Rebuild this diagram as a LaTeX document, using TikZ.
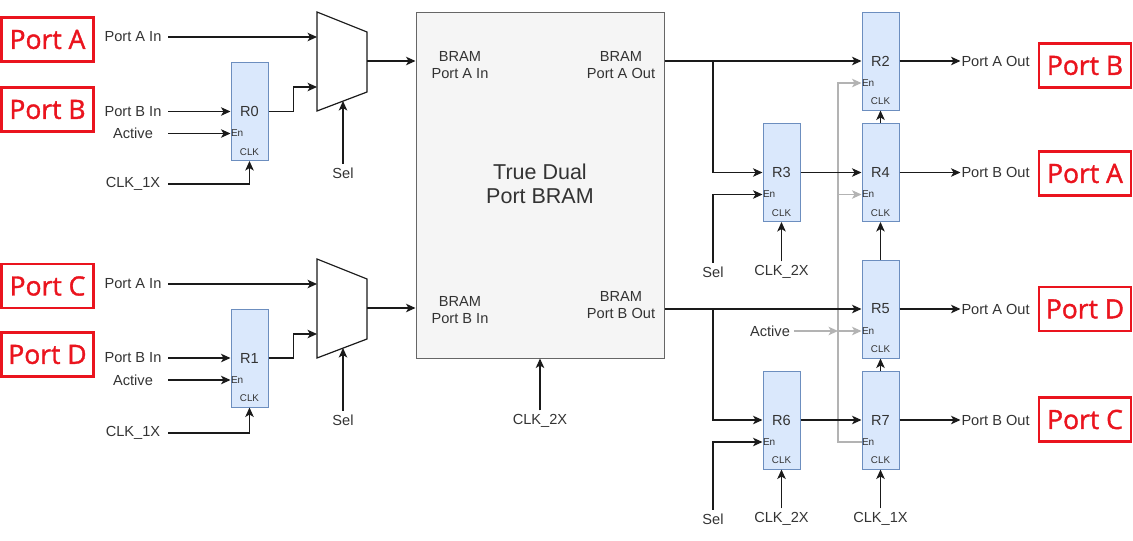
\documentclass[tikz,border=0pt]{standalone}
\usepackage{fontspec}
\setmainfont{Liberation Sans}
\newfontfamily\portfont[FakeBold=1.4]{Open Sans}
\usetikzlibrary{arrows.meta,calc}
\definecolor{regfill}{HTML}{DAE8FC}
\definecolor{regline}{HTML}{6C8EBF}
\definecolor{bramfill}{HTML}{F5F5F5}
\definecolor{bramline}{HTML}{666666}
\definecolor{txt}{HTML}{333333}
\definecolor{wirecol}{HTML}{1A1A1A}
\definecolor{gwire}{HTML}{B3B3B3}
\definecolor{portred}{HTML}{EA141E}
\tikzset{
  lbl/.style={font=\fontsize{14.6}{17}\selectfont, text=txt, inner sep=1pt, outer sep=3pt},
  inlbl/.style={lbl, minimum width=64pt, inner sep=0pt},
  reg/.style={draw=regline, fill=regfill, line width=1pt, minimum width=37pt, minimum height=98pt,
    inner sep=0pt, font=\fontsize{14.6}{17}\selectfont, text=txt},
  enlbl/.style={font=\fontsize{10}{12}\selectfont, text=txt, inner sep=0.5pt, outer sep=0pt, anchor=west},
  clklbl/.style={font=\fontsize{9.8}{12}\selectfont, text=txt, inner sep=0pt},
  portbox/.style={draw=portred, line width=2.6pt, text=portred, minimum width=92pt, minimum height=44pt,
    inner sep=0pt, font=\portfont\fontsize{26.5}{30}\selectfont},
  wire/.style={draw=wirecol, line width=1.2pt},
  arr/.style={wire, -{Stealth[length=9.5pt,width=8.5pt,inset=2.5pt]}},
  garr/.style={draw=gwire, line width=1.2pt, -{Stealth[length=9.5pt,width=8.5pt,inset=2.5pt]}},
}
% register with En and CLK pins
\newcommand{\regbox}[3]{%
  \node[reg] (#1) at (#2) {#3};
  \node[enlbl] (#1en) at ([yshift=-22pt]#1.west) {En};
  \node[clklbl] (#1clk) at ([yshift=9pt]#1.south) {CLK};
}
% 2:1 mux, name and top y
\newcommand{\muxbox}[2]{%
  \draw[wire, fill=white] (317,#2) -- (367,#2+20) -- (367,#2+80) -- (317,#2+99) -- cycle;
  \coordinate (#1in1) at (317,#2+25);
  \coordinate (#1in2) at (317,#2+75);
  \coordinate (#1out) at (367,#2+49);
  \coordinate (#1sel) at (343,#2+89);
}
\begin{document}
\begin{tikzpicture}[x=1pt,y=-1pt]
\useasboundingbox (0,0) rectangle (1133,541);
\foreach \nm/\x/\y/\t in {pa/47.5/39.5/A, pb/47.5/109.5/B, pc/47.5/286/C, pd/47.5/354.5/D,
  ob/1085/65.5/B, oa/1085/173.5/A, od/1085/309/D, oc/1085/419.5/C}
  \node[portbox] (port\nm) at (\x,\y) {Port \t};

% BRAM
\node[draw=bramline, fill=bramfill, line width=1pt, minimum width=248pt, minimum height=346pt] (bram) at (540,185) {};
\node[lbl, align=center] (bpai) at (460,65.5) {BRAM\\Port A In};
\node[lbl, align=center] (bpao) at (621,65.5) {BRAM\\Port A Out};
\node[lbl, align=center] (bpbi) at (460,310.5) {BRAM\\Port B In};
\node[lbl, align=center] (bpbo) at (621,305.5) {BRAM\\Port B Out};
\node[font=\fontsize{21.5}{24}\selectfont, text=txt, align=center] (title) at (540,184) {True Dual\\Port BRAM};
\node[lbl] (clkbram) at (540,421) {CLK\_2X};
\draw[arr] (clkbram.north) -- (bram.south);

% input side
\muxbox{muxA}{12}
\muxbox{muxB}{259}
\regbox{R0}{249.5,111.5}{R0}
\regbox{R1}{249.5,358}{R1}
\node[inlbl] (ainA) at (133,37) {Port A In};
\node[inlbl] (binA) at (133,111.5) {Port B In};
\node[inlbl] (actA) at (133,133.5) {Active};
\node[inlbl] (clkA) at (133,184) {CLK\_1X};
\node[lbl] (selA) at (343,173) {Sel};
\node[inlbl] (ainB) at (133,284) {Port A In};
\node[inlbl] (binB) at (133,358) {Port B In};
\node[inlbl] (actB) at (133,380) {Active};
\node[inlbl] (clkB) at (133,433) {CLK\_1X};
\node[lbl] (selB) at (343,420) {Sel};
\foreach \m/\r/\s in {A/R0/A, B/R1/B} {
  \draw[arr] (ain\s.east) -- (mux\m in1);
  \draw[arr] (bin\s.east) -- (bin\s.east -| \r.west);
  \draw[arr] (act\s.east) -- (\r en.west);
  \draw[arr] (clk\s.east) -| (\r.south);
  \draw[arr] (\r.east) -- ++(25,0) |- (mux\m in2);
  \draw[arr] (sel\s.north) -- (mux\m sel);
  \draw[arr] (mux\m out) -- (mux\m out -| bram.west);
}

% output side
\regbox{R2}{880.5,61}{R2}
\regbox{R3}{781.5,172.5}{R3}
\regbox{R4}{880.5,172.5}{R4}
\regbox{R5}{880.5,309}{R5}
\regbox{R6}{781.5,420}{R6}
\regbox{R7}{880.5,420}{R7}
\node[lbl] (act5) at (770,331) {Active};
\coordinate (gtop) at (838,83);
\draw[garr] (R7en.west) -| (gtop) -- (R2en.west);
\draw[garr] (gtop |- R4en.west) -- (R4en.west);
\draw[garr] (act5.east) -- (gtop |- act5.east);
\draw[garr] (gtop |- R5en.west) -- (R5en.west);

\coordinate (splitA) at (713,61);
\coordinate (splitB) at (713,309);
\draw[arr] (bram.east |- R2.west) -- (R2.west);
\draw[arr] (splitA) |- (R3.west);
\draw[arr] (bram.east |- R5.west) -- (R5.west);
\draw[arr] (splitB) |- (R6.west);
\draw[arr] (R3.east) -- (R4.west);
\draw[arr] (R6.east) -- (R7.west);
\draw[arr] (R4.north) -- (R2.south);
\draw[arr] (R5.north) -- (R4.south);
\draw[arr] (R7.north) -- (R5.south);

\node[lbl] (sel3) at (713,272) {Sel};
\node[lbl] (clk3) at (781.5,272) {CLK\_2X};
\node[lbl] (sel6) at (713,519) {Sel};
\node[lbl] (clk6) at (781.5,519) {CLK\_2X};
\node[lbl] (clk7) at (880.5,519) {CLK\_1X};
\draw[arr] (sel3.north) |- (R3en.west);
\draw[arr] (clk3.north) -- (R3.south);
\draw[arr] (sel6.north) |- (R6en.west);
\draw[arr] (clk6.north) -- (R6.south);
\draw[arr] (clk7.north) -- (R7.south);

\foreach \r/\t in {R2/Port A Out, R4/Port B Out, R5/Port A Out, R7/Port B Out} {
  \node[lbl, anchor=west, outer sep=0pt] (o\r) at ($(\r.east)+(61,0)$) {\t};
  \draw[arr] (\r.east) -- (o\r.west);
}
\end{tikzpicture}
\end{document}
